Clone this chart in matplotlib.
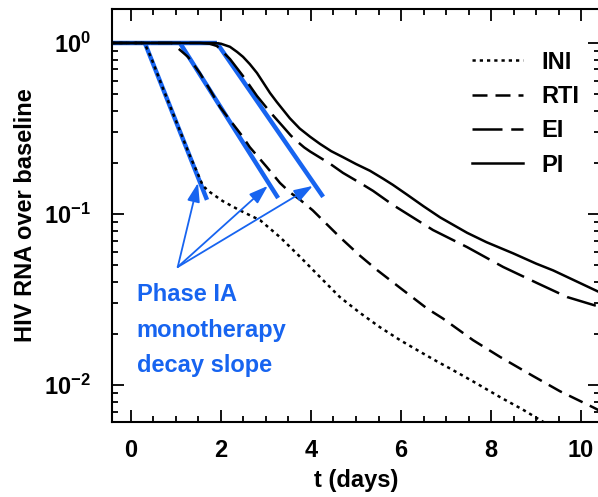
import matplotlib
matplotlib.use("Agg")
import matplotlib.pyplot as plt
from matplotlib.ticker import MultipleLocator, LogLocator, NullFormatter, FixedLocator, FixedFormatter

plt.rcParams['font.family'] = ['Liberation Sans', 'DejaVu Sans']
plt.rcParams['font.weight'] = 'bold'
plt.rcParams['mathtext.fontset'] = 'custom'
plt.rcParams['mathtext.rm'] = 'Liberation Sans:bold'
plt.rcParams['mathtext.bf'] = 'Liberation Sans:bold'
plt.rcParams['mathtext.it'] = 'Liberation Sans:bold'

# ---- data ----
ini_t = [-0.42, 0.30, 0.45, 0.70, 1.00, 1.30, 1.47, 1.60, 1.76, 2.04, 2.42, 2.87, 3.31, 3.76, 4.20,
         4.64, 5.09, 5.53, 5.98, 6.42, 6.80, 7.10, 7.60, 8.20, 8.70, 9.20, 9.50]
ini_v = [1.0, 1.0, 0.82, 0.553, 0.351, 0.222, 0.176, 0.146, 0.134, 0.119, 0.105, 0.092, 0.0733, 0.0561, 0.0428,
         0.0327, 0.0264, 0.0218, 0.0183, 0.01567, 0.01374, 0.01245, 0.0105, 0.0085, 0.0072, 0.0060, 0.0054]

rti_t = [-0.42, 0.91, 1.04, 1.27, 1.53, 1.76, 1.98, 2.20, 2.49, 2.64, 3.02, 3.31, 3.53, 3.76, 4.04,
         4.64, 5.09, 5.47, 5.98, 6.58, 6.93, 7.60, 8.20, 8.93, 9.53, 10.27, 10.45]
rti_v = [1.0, 1.0, 0.935, 0.828, 0.668, 0.531, 0.422, 0.354, 0.282, 0.246, 0.188, 0.152, 0.134, 0.121, 0.105,
         0.0733, 0.057, 0.047, 0.037, 0.028, 0.0245, 0.0183, 0.0146, 0.0113, 0.0092, 0.0074, 0.0070]

ei_t = [-0.42, 1.53, 1.75, 1.91, 2.20, 2.49, 2.80, 3.09, 3.38, 3.55, 3.69, 3.85, 3.98, 4.42, 4.71, 5.09, 5.38,
        5.82, 6.71, 7.47, 8.27, 9.02, 9.69, 10.27, 10.45]
ei_v = [1.0, 1.0, 0.99, 0.96, 0.806, 0.641, 0.49, 0.395, 0.324, 0.288, 0.266, 0.245, 0.232, 0.197, 0.174, 0.152, 0.1365,
        0.113, 0.0806, 0.064, 0.049, 0.0395, 0.0327, 0.0294, 0.0285]

pi_t = [-0.42, 1.87, 2.00, 2.20, 2.36, 2.49, 2.64, 2.80, 2.93, 3.09, 3.24, 3.53, 3.75, 3.98, 4.20, 4.45,
        4.71, 5.00, 5.31, 5.60, 5.82, 6.13, 6.50, 6.87, 7.47, 7.90, 8.49, 9.00, 9.38, 10.27, 10.45]
pi_v = [1.0, 1.0, 0.99, 0.95, 0.886, 0.83, 0.753, 0.668, 0.592, 0.51, 0.452, 0.363, 0.316, 0.283, 0.257, 0.233,
        0.215, 0.196, 0.179, 0.161, 0.148, 0.130, 0.111, 0.0955, 0.0776, 0.0684, 0.0589, 0.0513, 0.0468, 0.0363, 0.0345]

series_names = ['INI', 'RTI', 'EI', 'PI']

# blue "Phase IA" slope segments
flat_t = [-0.42, 1.91]
slope_t0 = [0.31, 1.09, 1.91]
slope_t1 = [1.69, 3.27, 4.27]
slope_v1 = [0.121, 0.124, 0.126]

arrow_origin = (1.04, 0.049)
arrow_tips_t = [1.49, 3.04, 4.04]
arrow_tips_v = [0.152, 0.146, 0.146]
note_text = 'Phase IA\nmonotherapy\ndecay slope'

ytick_vals = [1e-2, 1e-1, 1.0]
ytick_labels = [r'$\mathbf{10^{-2}}$', r'$\mathbf{10^{-1}}$', r'$\mathbf{10^{0}}$']

BLUE = '#1764f0'

fig = plt.figure(figsize=(5.98, 4.97), dpi=100)
ax = fig.add_axes([112/598, 75/497, 488/598, 413/497])

lw = 1.8
ax.plot(flat_t, [1.0, 1.0], color=BLUE, lw=3.2, solid_capstyle='butt', zorder=2)
for t0, t1, v1 in zip(slope_t0, slope_t1, slope_v1):
    ax.plot([t0, t1], [1.0, v1], color=BLUE, lw=3.2, solid_capstyle='butt', zorder=2)

ax.plot(ini_t, ini_v, color='black', lw=lw, ls=(0, (1.3, 1.6)), label=series_names[0], zorder=3)
ax.plot(rti_t, rti_v, color='black', lw=lw, ls=(0, (6, 3.2)), label=series_names[1], zorder=3)
ax.plot(ei_t, ei_v, color='black', lw=lw, ls=(0, (12, 3.5)), label=series_names[2], zorder=3)
ax.plot(pi_t, pi_v, color='black', lw=lw, ls='-', label=series_names[3], zorder=3)

for tt, tv in zip(arrow_tips_t, arrow_tips_v):
    ax.annotate('', xy=(tt, tv), xytext=arrow_origin,
                arrowprops=dict(arrowstyle='-|>,head_length=0.95,head_width=0.32', mutation_scale=12,
                                color=BLUE, lw=1.3, shrinkA=0, shrinkB=0), zorder=4)

ax.text(0.13, 0.0395, note_text, color=BLUE, fontsize=17, fontweight='bold',
        ha='left', va='top', linespacing=1.7)

ax.set_yscale('log')
ax.set_xlim(-0.42, 10.42)
ax.set_ylim(0.00608, 1.58)

ax.xaxis.set_major_locator(MultipleLocator(2))
ax.xaxis.set_minor_locator(MultipleLocator(0.5))
ax.yaxis.set_major_locator(FixedLocator(ytick_vals))
ax.yaxis.set_major_formatter(FixedFormatter(ytick_labels))
ax.yaxis.set_minor_locator(LogLocator(base=10, subs=range(2, 10)))
ax.yaxis.set_minor_formatter(NullFormatter())

ax.tick_params(which='both', direction='in', top=True, right=True, width=1.3)
ax.tick_params(which='major', length=8.6, labelsize=17)
ax.tick_params(which='minor', length=4.3)
ax.tick_params(axis='x', which='major', pad=12)
ax.tick_params(axis='y', which='major', pad=15)
for s in ax.spines.values():
    s.set_linewidth(1.5)

ax.set_xlabel('t (days)', fontsize=17, fontweight='bold', va='top')
ax.xaxis.set_label_coords(0.5, -0.114)
ax.set_ylabel('HIV RNA over baseline', fontsize=17, fontweight='bold')
ax.yaxis.set_label_coords(-0.154, 0.5)

leg = ax.legend(loc='upper left', bbox_to_anchor=(0.738, 0.899), frameon=False,
                fontsize=17, handlelength=2.16, handletextpad=0.76, labelspacing=0.48,
                borderpad=0, borderaxespad=0)

fig.savefig('out.png', dpi=100)
